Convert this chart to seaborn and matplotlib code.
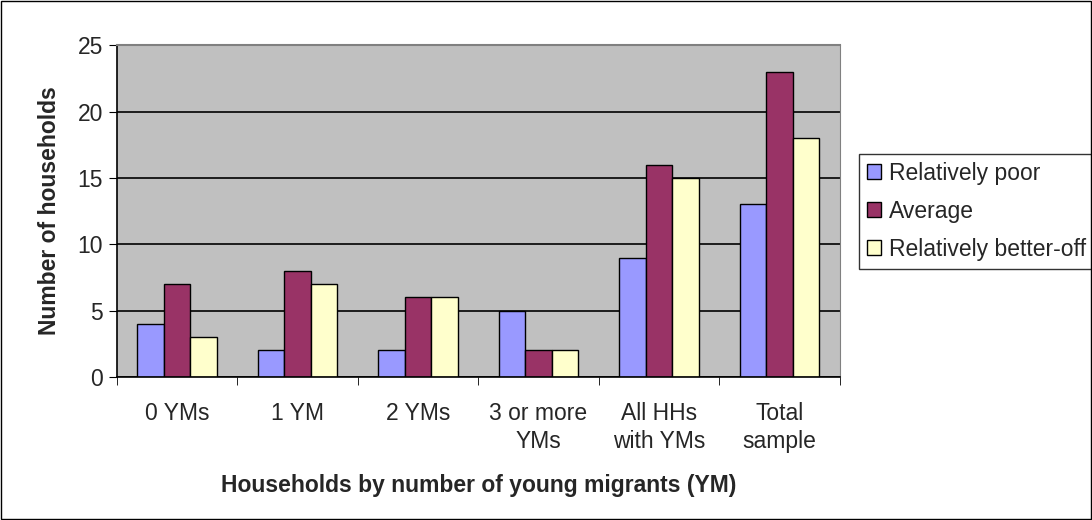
import matplotlib
matplotlib.use("Agg")
import matplotlib.pyplot as plt
import pandas as pd
import seaborn as sns

categories = ["0 YMs", "1 YM", "2 YMs", "3 or more\nYMs", "All HHs\nwith YMs", "Total\nsample"]
poor = [4, 2, 2, 5, 9, 13]
average = [7, 8, 6, 2, 16, 23]
better_off = [3, 7, 6, 2, 15, 18]
series = ["Relatively poor", "Average", "Relatively better-off"]
colors = ["#9999FF", "#993366", "#FFFFCC"]

df = pd.DataFrame({
    "category": categories * 3,
    "group": [s for s in series for _ in categories],
    "value": poor + average + better_off,
})

sns.set_style("white")
plt.rcParams["font.family"] = ["Liberation Sans", "DejaVu Sans"]
FS = 16.5

fig = plt.figure(figsize=(10.92, 5.2), dpi=100)
ax = fig.add_axes([0.107, 0.275, 0.662, 0.638])
ax.set_facecolor("#C0C0C0")

sns.barplot(data=df, x="category", y="value", hue="group", palette=colors,
            saturation=1, width=0.66, edgecolor="black", linewidth=1, ax=ax, legend=True)

ax.set_ylim(0, 25)
ax.set_yticks(range(0, 26, 5))
ax.set_xlim(-0.5, len(categories) - 0.5)
ax.yaxis.grid(True, color="black", linewidth=1.2)
ax.set_axisbelow(True)
for s in ["top", "right"]:
    ax.spines[s].set_color("#808080")
for s in ["left", "bottom"]:
    ax.spines[s].set_color("black")
    ax.spines[s].set_linewidth(1.2)
ax.spines["top"].set_linewidth(1.5)

ax.set_xticks(range(len(categories)))
ax.set_xticklabels(categories, fontsize=FS, linespacing=1.3)
ax.tick_params(axis="x", length=0, pad=18)
ax.tick_params(axis="y", labelsize=FS, length=6, direction="out", left=True, color="black", pad=4)
# minor ticks between categories
ax.set_xticks([i - 0.5 for i in range(len(categories) + 1)], minor=True)
ax.tick_params(axis="x", which="minor", length=6, direction="out", bottom=True, color="black")

ax.set_xlabel("Households by number of young migrants (YM)", fontsize=FS,
              fontweight="bold", labelpad=15)
ax.set_ylabel("Number of households", fontsize=FS, fontweight="bold", labelpad=12)

leg = ax.legend(loc="center left", bbox_to_anchor=(1.027, 0.5), frameon=True,
                fontsize=FS, handlelength=0.6, handleheight=0.6, handletextpad=0.35,
                borderpad=0.35, labelspacing=0.65, fancybox=False, borderaxespad=0)
leg.get_frame().set_edgecolor("black")
leg.get_frame().set_linewidth(1)

fig.patches.append(plt.Rectangle((0.001, 0.002), 0.998, 0.996, transform=fig.transFigure,
                                 fill=False, edgecolor="black", linewidth=1))

fig.savefig("out.png", dpi=100)
